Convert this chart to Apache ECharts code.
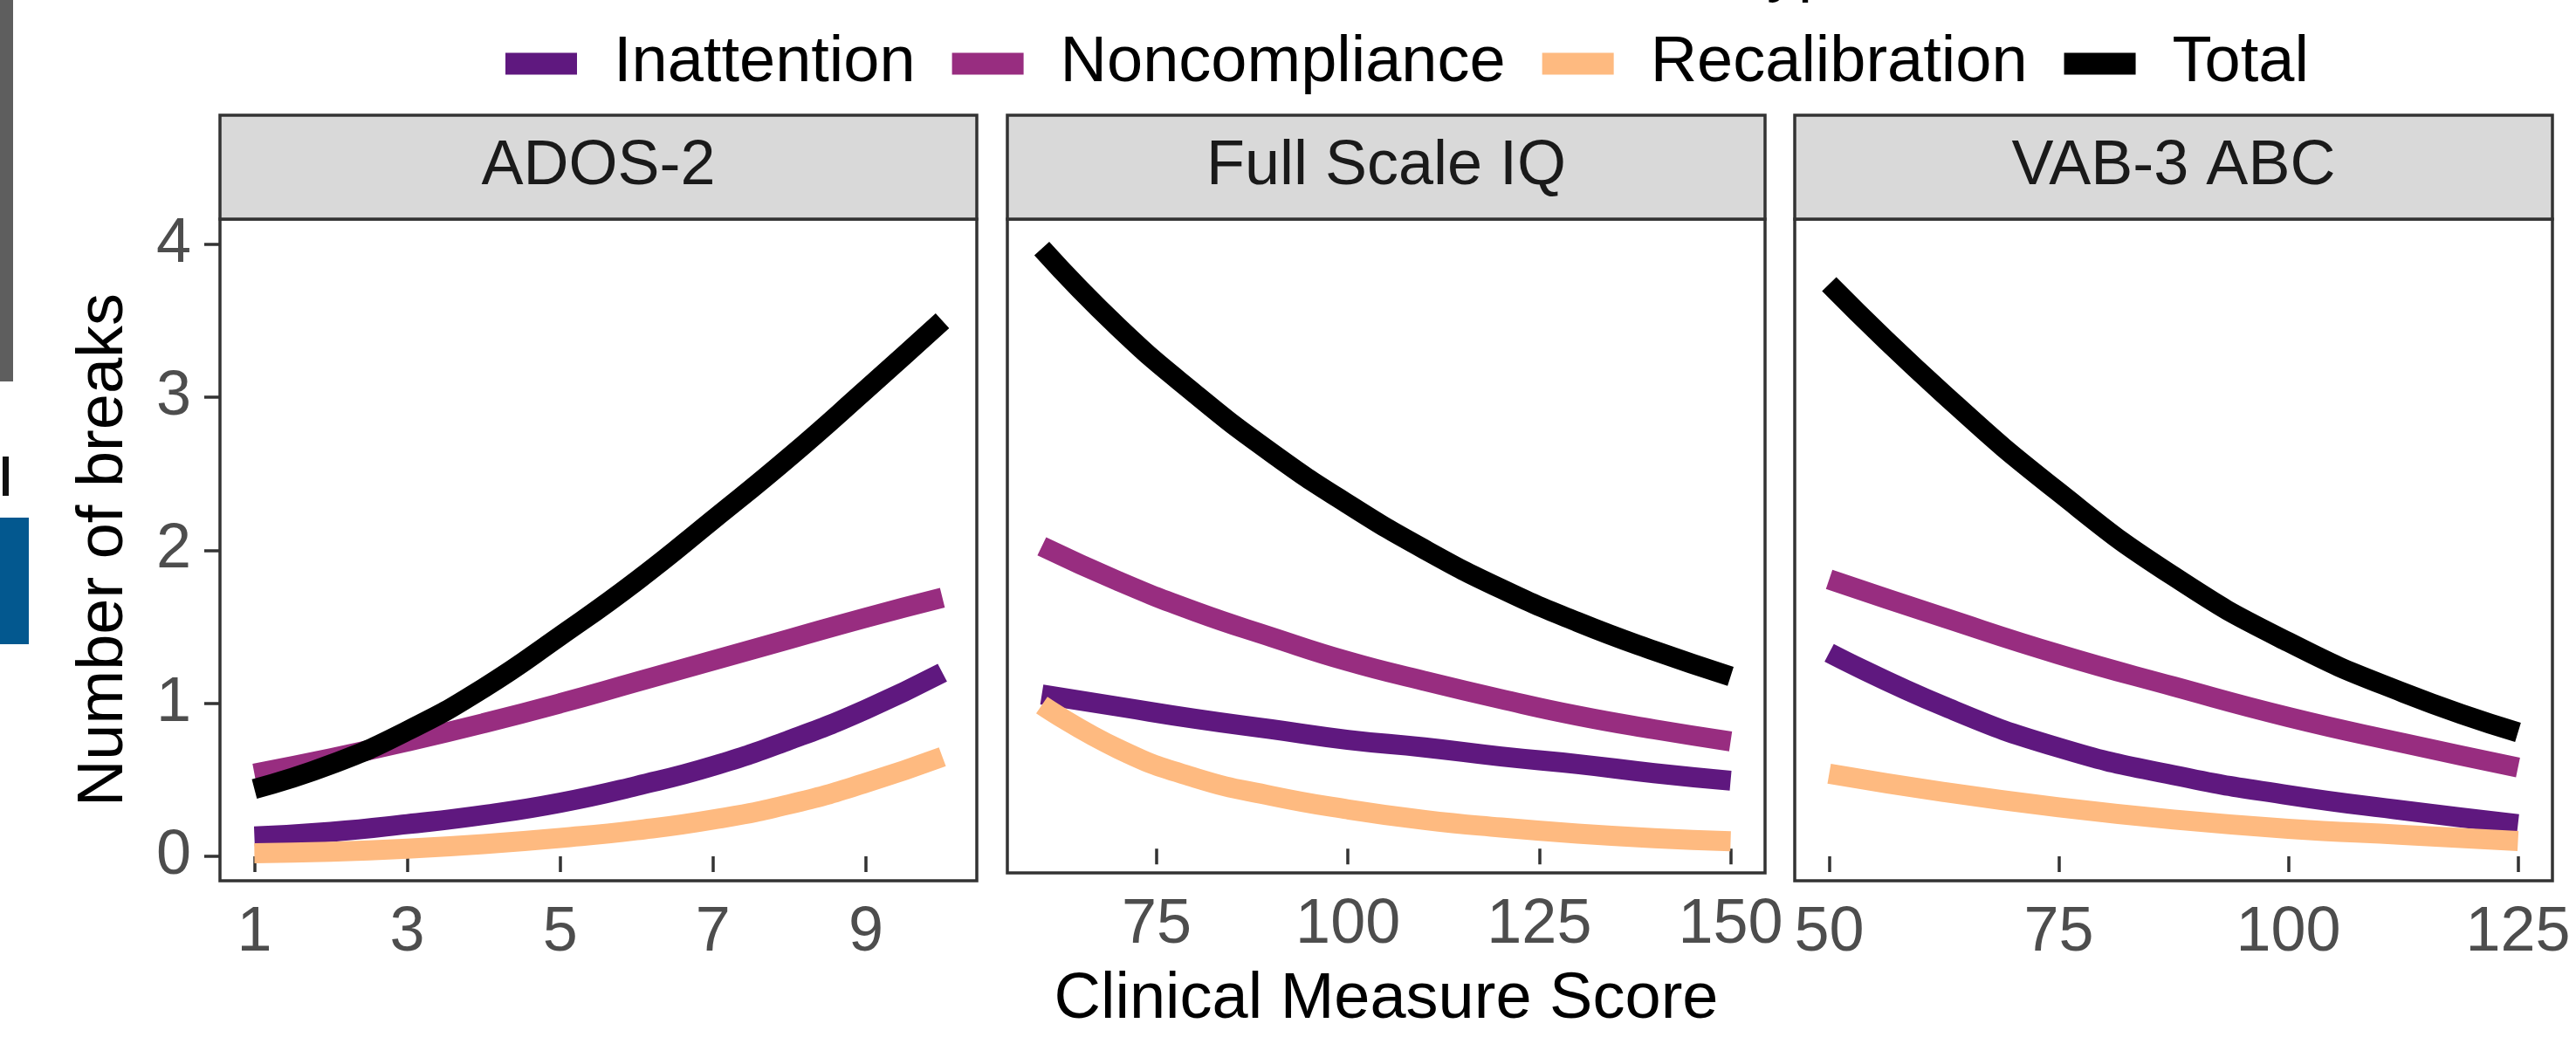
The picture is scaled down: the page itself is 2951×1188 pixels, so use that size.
<!DOCTYPE html>
<html>
<head>
<meta charset="utf-8">
<script src="https://cdn.jsdelivr.net/npm/echarts@6/dist/echarts.min.js"></script>
<style>
html,body{margin:0;padding:0;background:#fff;}
#chart{width:2951px;height:1188px;}
</style>
</head>
<body>
<div id="chart"></div>
<script>
// ---------- data ----------
const panelNames = ['ADOS-2', 'Full Scale IQ', 'VAB-3 ABC'];
const seriesNames = ['Inattention', 'Noncompliance', 'Recalibration', 'Total'];
const yTickValues = [0, 1, 2, 3, 4];
const adosTicks = [1, 3, 5, 7, 9];
const fsiqTicks = [75, 100, 125, 150];
const vabTicks = [50, 75, 100, 125];

const adosX = [1, 2, 3, 4, 5, 6, 7, 8, 9, 10];
const adosInattention   = [0.13, 0.16, 0.21, 0.27, 0.35, 0.46, 0.59, 0.76, 0.96, 1.20];
const adosNoncompliance = [0.54, 0.64, 0.75, 0.87, 1.00, 1.14, 1.28, 1.42, 1.56, 1.69];
const adosRecalibration = [0.02, 0.03, 0.05, 0.08, 0.12, 0.17, 0.24, 0.34, 0.48, 0.65];
const adosTotal         = [0.44, 0.60, 0.82, 1.10, 1.44, 1.80, 2.20, 2.61, 3.05, 3.50];

const fsiqX = [60, 70, 80, 90, 100, 110, 120, 130, 140, 150];
const fsiqInattention   = [1.02, 0.94, 0.86, 0.79, 0.72, 0.67, 0.61, 0.56, 0.50, 0.45];
const fsiqNoncompliance = [2.00, 1.77, 1.57, 1.40, 1.24, 1.11, 0.99, 0.88, 0.79, 0.71];
const fsiqRecalibration = [0.95, 0.66, 0.47, 0.35, 0.26, 0.19, 0.14, 0.10, 0.07, 0.05];
const fsiqTotal         = [3.97, 3.45, 3.01, 2.62, 2.28, 1.98, 1.72, 1.50, 1.31, 1.14];

const vabX = [50, 62.5, 75, 87.5, 100, 112.5, 125];
const vabInattention   = [1.33, 0.98, 0.71, 0.53, 0.40, 0.30, 0.21];
const vabNoncompliance = [1.81, 1.56, 1.32, 1.11, 0.91, 0.74, 0.58];
const vabRecalibration = [0.54, 0.42, 0.32, 0.24, 0.18, 0.14, 0.10];
const vabTotal         = [3.74, 3.02, 2.38, 1.83, 1.40, 1.07, 0.81];

const yTitle = 'Number of breaks';
const xTitle = 'Clinical Measure Score';
const legendTitle = 'Break Type';

// ---------- build ----------
const colors = ['#5F187F', '#982D80', '#FEBA80', '#000000'];
const FONT = 'Liberation Sans, Arial, Helvetica, sans-serif';
const panelX = [adosX, fsiqX, vabX];
const panelY = [
  [adosInattention, adosNoncompliance, adosRecalibration, adosTotal],
  [fsiqInattention, fsiqNoncompliance, fsiqRecalibration, fsiqTotal],
  [vabInattention, vabNoncompliance, vabRecalibration, vabTotal]
];
const panelTicks = [adosTicks, fsiqTicks, vabTicks];
const xRanges = [[0.55, 10.45], [55.5, 154.5], [46.25, 128.75]];
const yRange = [-0.16, 4.165];

const gridTop = 251, gridHeight = 758;
const grids = [
  {left: 252, top: gridTop, width: 867, height: gridHeight},
  {left: 1154, top: gridTop, width: 868, height: gridHeight},
  {left: 2056, top: gridTop, width: 868, height: gridHeight}
].map(g => Object.assign(g, {show: true, borderColor: '#333333', borderWidth: 3.5, backgroundColor: '#ffffff', containLabel: false}));

const tickStyle = {show: true, length: 18, lineStyle: {color: '#333333', width: 3.5}};
const labelStyle = {color: '#4D4D4D', fontSize: 72, fontFamily: FONT};

const xAxes = panelTicks.map((ticks, i) => ({
  type: 'value', gridIndex: i, min: xRanges[i][0], max: xRanges[i][1],
  axisLine: {show: false}, splitLine: {show: false},
  axisTick: Object.assign({customValues: ticks}, tickStyle),
  axisLabel: Object.assign({customValues: ticks, margin: 24}, labelStyle),
  name: i === 1 ? xTitle : '', nameLocation: 'middle', nameGap: 109,
  nameTextStyle: {color: '#000000', fontSize: 74, fontFamily: FONT}
}));

const yAxes = [0, 1, 2].map(i => ({
  type: 'value', gridIndex: i, min: yRange[0], max: yRange[1],
  axisLine: {show: false}, splitLine: {show: false},
  axisTick: Object.assign({customValues: yTickValues}, tickStyle, {show: i === 0}),
  axisLabel: Object.assign({customValues: yTickValues, margin: 33, show: i === 0}, labelStyle),
  name: i === 0 ? yTitle : '', nameLocation: 'middle', nameGap: 95, nameRotate: 90,
  nameTextStyle: {color: '#000000', fontSize: 74, fontFamily: FONT}
}));

const series = [];
for (let p = 0; p < 3; p++) {
  for (let s = 0; s < 4; s++) {
    series.push({
      type: 'line', name: seriesNames[s], xAxisIndex: p, yAxisIndex: p,
      data: panelX[p].map((x, k) => [x, panelY[p][s][k]]),
      smooth: 0.5, showSymbol: false, symbol: 'none',
      lineStyle: {color: colors[s], width: 23, cap: 'butt', join: 'round'},
      itemStyle: {color: colors[s]},
      emphasis: {disabled: true}, silent: true, animation: false
    });
  }
}

const graphics = [];
grids.forEach((g, i) => {
  graphics.push({
    type: 'rect', z: 10,
    shape: {x: g.left, y: 132, width: g.width, height: gridTop - 132},
    style: {fill: '#D9D9D9', stroke: '#333333', lineWidth: 3.5}
  });
  graphics.push({
    type: 'text', z: 11,
    x: g.left + g.width / 2, y: (132 + gridTop) / 2,
    style: {text: panelNames[i], fill: '#1A1A1A', font: '72px ' + FONT, textAlign: 'center', textVerticalAlign: 'middle'}
  });
});
// fragments of the surrounding figure visible at the left edge
graphics.push({type: 'rect', shape: {x: 0, y: 0, width: 15, height: 437}, style: {fill: '#5E5E5E'}});
graphics.push({type: 'rect', shape: {x: 3, y: 523, width: 7, height: 45}, style: {fill: '#111111'}});
graphics.push({type: 'rect', shape: {x: 0, y: 593, width: 33, height: 145}, style: {fill: '#03588F'}});
// legend title, cut off at the top edge
graphics.push({
  type: 'text', x: 2140, y: -32,
  style: {text: legendTitle, fill: '#000000', font: '72px ' + FONT, textAlign: 'right', textVerticalAlign: 'middle'}
});

const chart = echarts.init(document.getElementById('chart'), null, {renderer: 'canvas'});
chart.setOption({
  animation: false,
  backgroundColor: '#ffffff',
  color: colors,
  grid: grids,
  xAxis: xAxes,
  yAxis: yAxes,
  legend: {
    show: true, left: 574, top: 31, orient: 'horizontal',
    itemWidth: 82, itemHeight: 25, itemGap: 42, icon: 'rect',
    data: seriesNames.map((n, i) => ({name: n, icon: 'rect', itemStyle: {color: colors[i]}})),
    textStyle: {color: '#000000', fontSize: 74, fontFamily: FONT, padding: [0, 0, 0, 37]},
    selectedMode: false
  },
  graphic: graphics,
  series: series
});
</script>
</body>
</html>
